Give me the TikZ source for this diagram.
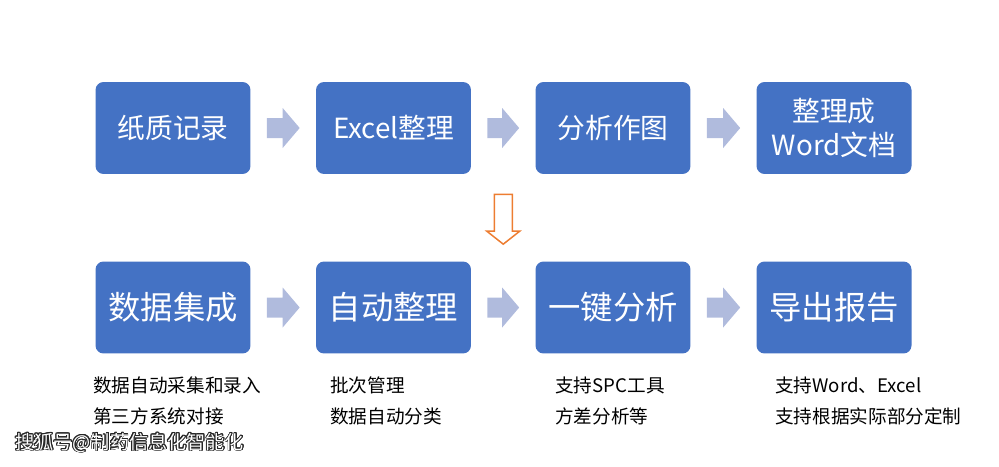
\documentclass[tikz,border=0pt]{standalone}
\usepackage{fontspec}
\setmainfont{Noto Sans CJK SC}
\usepackage{contour}
\contourlength{0.5pt}
\usetikzlibrary{calc}
\definecolor{boxblue}{HTML}{4472C4}
\definecolor{arrowgray}{HTML}{B0BBDD}
\definecolor{arroworange}{HTML}{ED7D31}
\tikzset{
  stepbox/.style={fill=boxblue, rounded corners=0.16cm, minimum width=3.1cm, minimum height=1.84cm,
    text=white, align=center, inner sep=0pt},
  toptext/.style={font=\fontsize{15.8}{19.8}\selectfont},
  bottext/.style={font=\fontsize{18.4}{22}\selectfont},
  notetext/.style={anchor=west, align=left, inner sep=0pt, font=\fontsize{10.6}{18.1}\selectfont},
}
% block arrow between two boxes in one row
\newcommand{\flowarrow}[2]{%
  \fill[arrowgray] ($(#1.east)+(16,-10)$) -- ($(#2.west)+(-33,-10)$) -- ($(#2.west)+(-33,-20)$)
    -- ($(#2.west)+(-16,0)$) -- ($(#2.west)+(-33,20)$) -- ($(#2.west)+(-33,10)$)
    -- ($(#1.east)+(16,10)$) -- cycle;}
\begin{document}
\begin{tikzpicture}[x=0.02cm,y=-0.02cm]
\useasboundingbox (0,0) rectangle (999,466);
% top row
\node[stepbox, toptext] (paper) at (173,128) {纸质记录};
\node[stepbox, toptext] (excel) at (393.5,128) {Excel整理};
\node[stepbox, toptext] (chart) at (613,128) {分析作图};
\node[stepbox, toptext] (word) at (834,128) {整理成\\Word文档};
% bottom row
\node[stepbox, bottext] (collect) at (173,307.5) {数据集成};
\node[stepbox, bottext] (sort) at (393.5,307.5) {自动整理};
\node[stepbox, bottext] (analyse) at (613,307.5) {一键分析};
\node[stepbox, bottext] (report) at (834,307.5) {导出报告};
% arrows
\flowarrow{paper}{excel}
\flowarrow{excel}{chart}
\flowarrow{chart}{word}
\flowarrow{collect}{sort}
\flowarrow{sort}{analyse}
\flowarrow{analyse}{report}
% old to new
\coordinate (downtop) at ($($(excel.south east)!0.5!(chart.south west)$)+(0,20)$);
\coordinate (downtip) at ($($(sort.north east)!0.5!(analyse.north west)$)+(0,-17)$);
\draw[arroworange, fill=white, line width=0.85pt] ($(downtop)+(-9,0)$) -- ($(downtip)+(-9,-13)$)
  -- ($(downtip)+(-16.5,-13)$) -- (downtip) -- ($(downtip)+(16.5,-13)$) -- ($(downtip)+(9,-13)$)
  -- ($(downtop)+(9,0)$) -- cycle;
% notes
\node[notetext] (notecollect) at (93,401) {数据自动采集和录入\\第三方系统对接};
\node[notetext] (notesort) at (330,401) {批次管理\\数据自动分类};
\node[notetext] (noteanalyse) at (555,401) {支持SPC工具\\方差分析等};
\node[notetext] (notereport) at (775,401) {支持Word、Excel\\支持根据实际部分定制};
% watermark
\node[anchor=west, inner sep=0pt, text=white, font=\fontsize{10.9}{13}\selectfont] (mark) at (15,443) {\contour{black!85}{搜狐号@制药信息化智能化}};
\end{tikzpicture}
\end{document}
